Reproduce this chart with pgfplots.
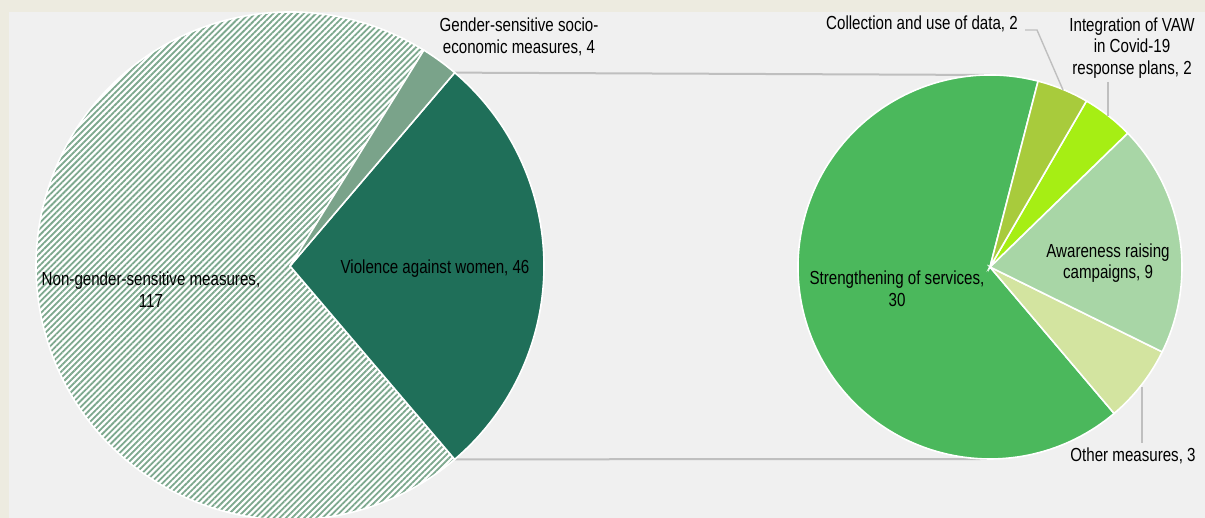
\documentclass[border=0pt]{standalone}
\usepackage{pgfplots}
\pgfplotsset{compat=1.18}
\usepackage{pgfplotstable}
\usetikzlibrary{patterns.meta}
\usepackage{fontspec}
\setmainfont{Liberation Sans}[FakeStretch=0.8]

\definecolor{bgout}{HTML}{EDEBE0}
\definecolor{bgin}{HTML}{F0F0F0}
\definecolor{hatch}{HTML}{7DA88E}
\definecolor{gsocio}{HTML}{7AA38A}
\definecolor{vaw}{HTML}{1F6F59}
\definecolor{strength}{HTML}{4BB85C}
\definecolor{collect}{HTML}{A8CB3C}
\definecolor{integr}{HTML}{A6EE14}
\definecolor{aware}{HTML}{A8D6A6}
\definecolor{other}{HTML}{D3E4A0}
\definecolor{leader}{HTML}{BFBFBF}

\pgfplotstableread{
name value
Violence 46
Gender 4
NonGender 117
}\leftpie
\pgfplotstableread{
name value
Strengthening 30
Other 3
Awareness 9
Integration 2
Collection 2
}\rightpie

\begin{document}%
\begin{tikzpicture}
\pgfplotstablegetelem{0}{value}\of\leftpie \edef\lA{\pgfplotsretval}
\pgfplotstablegetelem{1}{value}\of\leftpie \edef\lB{\pgfplotsretval}
\pgfplotstablegetelem{2}{value}\of\leftpie \edef\lC{\pgfplotsretval}
\pgfmathsetmacro\tL{\lA+\lB+\lC}
\pgfmathsetmacro\aLa{-180*(\lA/\tL)}
\pgfmathsetmacro\aLb{\aLa+360*(\lA/\tL)}
\pgfmathsetmacro\aLc{\aLb+360*(\lB/\tL)}
\pgfmathsetmacro\aLd{\aLa+360}
\pgfplotstablegetelem{0}{value}\of\rightpie \edef\rA{\pgfplotsretval}
\pgfplotstablegetelem{1}{value}\of\rightpie \edef\rB{\pgfplotsretval}
\pgfplotstablegetelem{2}{value}\of\rightpie \edef\rC{\pgfplotsretval}
\pgfplotstablegetelem{3}{value}\of\rightpie \edef\rD{\pgfplotsretval}
\pgfplotstablegetelem{4}{value}\of\rightpie \edef\rE{\pgfplotsretval}
\pgfmathsetmacro\tR{\rA+\rB+\rC+\rD+\rE}
\pgfmathsetmacro\aRa{75.5}
\pgfmathsetmacro\aRb{\aRa+360*(\rA/\tR)}
\pgfmathsetmacro\aRc{\aRb+360*(\rB/\tR)}
\pgfmathsetmacro\aRd{\aRc+360*(\rC/\tR)}
\pgfmathsetmacro\aRe{\aRd+360*(\rD/\tR)}
\pgfmathsetmacro\aRf{\aRa+360}
\begin{axis}[
  at={(0,0)}, anchor=south west,
  x=1pt, y=1pt, xmin=0, xmax=1205, ymin=0, ymax=518,
  enlargelimits=false, hide axis, clip=true,
]
\fill[bgout] (axis cs:0,0) rectangle (axis cs:1205,518);
\fill[bgin] (axis cs:9,0) rectangle (axis cs:1205,506);
% connector lines
\draw[leader, line width=2pt] (axis cs:290,252) ++(\aLb:254pt) -- (axis cs:990,443);
\draw[leader, line width=2pt] (axis cs:290,252) ++(\aLa:254pt) -- (axis cs:990,59);
% left pie
\fill[white] (axis cs:290,252) -- ++(\aLc:254pt) arc[start angle=\aLc, end angle=\aLd, radius=254pt] -- cycle;
\fill[pattern={Lines[angle=45,distance=4.3pt,line width=1.8pt]}, pattern color=hatch] (axis cs:290,252) -- ++(\aLc:254pt) arc[start angle=\aLc, end angle=\aLd, radius=254pt] -- cycle;
\draw[white, line width=1.6pt] (axis cs:290,252) -- ++(\aLc:254pt) arc[start angle=\aLc, end angle=\aLd, radius=254pt] -- cycle;
\filldraw[fill=vaw, draw=white, line width=1.6pt] (axis cs:290,252) -- ++(\aLa:254pt) arc[start angle=\aLa, end angle=\aLb, radius=254pt] -- cycle;
\filldraw[fill=gsocio, draw=white, line width=1.6pt] (axis cs:290,252) -- ++(\aLb:254pt) arc[start angle=\aLb, end angle=\aLc, radius=254pt] -- cycle;
% right pie
\filldraw[fill=strength, draw=white, line width=1.6pt] (axis cs:990,251) -- ++(\aRa:192pt) arc[start angle=\aRa, end angle=\aRb, radius=192pt] -- cycle;
\filldraw[fill=other, draw=white, line width=1.6pt] (axis cs:990,251) -- ++(\aRb:192pt) arc[start angle=\aRb, end angle=\aRc, radius=192pt] -- cycle;
\filldraw[fill=aware, draw=white, line width=1.6pt] (axis cs:990,251) -- ++(\aRc:192pt) arc[start angle=\aRc, end angle=\aRd, radius=192pt] -- cycle;
\filldraw[fill=integr, draw=white, line width=1.6pt] (axis cs:990,251) -- ++(\aRd:192pt) arc[start angle=\aRd, end angle=\aRe, radius=192pt] -- cycle;
\filldraw[fill=collect, draw=white, line width=1.6pt] (axis cs:990,251) -- ++(\aRe:192pt) arc[start angle=\aRe, end angle=\aRf, radius=192pt] -- cycle;
% leader lines
\draw[leader, line width=1.4pt] (axis cs:1025,488) -- (axis cs:1037,488) -- (axis cs:1063,428);
\draw[leader, line width=1.4pt] (axis cs:1108,436) -- (axis cs:1108,402);
\draw[leader, line width=1.4pt] (axis cs:1142,131) -- (axis cs:1142,75);
% labels
\begin{scope}[every node/.style={align=center, inner sep=0pt, text=black, font=\fontsize{18.9}{21.7}\selectfont}]
\node at (axis cs:519,481) {Gender-sensitive socio-\\economic measures, 4};
\node at (axis cs:151,228) {Non-gender-sensitive measures,\\117};
\node at (axis cs:435,249) {Violence against women, 46};
\node at (axis cs:897,229) {Strengthening of services,\\30};
\node at (axis cs:1108,255) {Awareness raising\\campaigns, 9};
\node at (axis cs:922,494) {Collection and use of data, 2};
\node at (axis cs:1132,470) {Integration of VAW\\in Covid-19\\response plans, 2};
\node at (axis cs:1133,62) {Other measures, 3};
\end{scope}
\end{axis}
\pgfresetboundingbox
\useasboundingbox (0,0) rectangle (1205pt,518pt);
\end{tikzpicture}%
\end{document}
